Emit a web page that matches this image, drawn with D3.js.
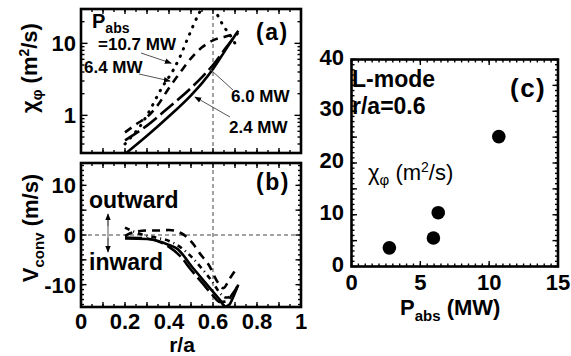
<!DOCTYPE html>
<html>
<head>
<meta charset="utf-8">
<script src="https://cdn.jsdelivr.net/npm/d3@7"></script>
<style>
  body { margin: 0; background: #fff; }
  svg { display: block; font-family: "Liberation Sans", Arial, sans-serif; }
  text { fill: #000; }
</style>
</head>
<body>
<svg id="fig" width="571" height="356"></svg>
<script>
// ---- data -------------------------------------------------------------
const powers = ["2.4 MW", "6.0 MW", "6.4 MW", "10.7 MW"];

// (a) toroidal momentum diffusivity chi_phi (m^2/s) vs r/a
const chi24 = [[0.2,0.29],[0.3,0.52],[0.4,0.97],[0.5,1.9],[0.55,2.8],[0.6,4.4],[0.65,7.5],[0.7,12.9],[0.715,15]];
const chi60 = [[0.2,0.45],[0.3,0.72],[0.4,1.3],[0.5,2.4],[0.55,3.4],[0.6,5.0],[0.65,8.0],[0.7,12.5],[0.715,14]];
const chi64 = [[0.2,0.58],[0.25,0.75],[0.3,0.95],[0.35,1.4],[0.4,2.4],[0.45,3.9],[0.5,6.2],[0.55,8.8],[0.6,11.0],[0.65,12.3],[0.7,13.5]];
const chi107 = [[0.2,0.4],[0.223,0.48],[0.268,0.7],[0.3,1.0],[0.367,2.4],[0.42,4.3],[0.45,6.5],[0.486,11.9],[0.533,24.8],[0.57,38],[0.6,34],[0.62,25],[0.645,18],[0.685,12],[0.7,10]];

// (b) convection velocity V_conv (m/s) vs r/a
const v24 = [[0.2,-0.7],[0.3,-0.8],[0.35,-1.2],[0.4,-2.0],[0.435,-2.7],[0.51,-6.7],[0.586,-10.7],[0.632,-13.1],[0.655,-14.4],[0.675,-14.0],[0.69,-12.7],[0.715,-10.0]];
const v60 = [[0.2,-0.5],[0.3,-0.7],[0.4,-2.4],[0.45,-4.2],[0.5,-7.0],[0.55,-9.6],[0.6,-12.2],[0.63,-13.5],[0.66,-13.4],[0.69,-11.8],[0.71,-10.5]];
const v64 = [[0.2,-0.2],[0.25,0.7],[0.3,0.9],[0.35,0.9],[0.4,1.0],[0.458,0.3],[0.508,-1.7],[0.54,-3.7],[0.586,-6.4],[0.617,-9.2],[0.647,-10.7],[0.677,-8.7],[0.708,-6.7]];
const v107 = [[0.2,1.5],[0.25,0.5],[0.3,-0.2],[0.35,-0.6],[0.4,-1.2],[0.45,-2.4],[0.5,-4.3],[0.55,-6.8],[0.6,-9.6],[0.63,-11.6],[0.66,-12.6],[0.69,-12.0],[0.715,-9.8]];

// (c) chi_phi at r/a = 0.6 vs absorbed power
const pAbs = [2.75, 5.95, 6.3, 10.7];
const chiAt06 = [3.6, 5.5, 10.4, 25.1];

// tick labels
const rTicks = [0, 0.2, 0.4, 0.6, 0.8, 1];
const rTickLabels = ["0", "0.2", "0.4", "0.6", "0.8", "1"];
const chiTicks = [1, 10];
const vTicks = [-10, 0, 10];
const pTicks = [0, 5, 10, 15];
const cTicks = [0, 10, 20, 30, 40];

// ---- scales -----------------------------------------------------------
const x = d3.scaleLinear().domain([0, 1]).range([81, 301]);
const yA = d3.scaleLog().domain([0.3, 30]).range([153, 9]);
const yB = d3.scaleLinear().domain([-14.5, 14.5]).range([307, 163]);
const xC = d3.scaleLinear().domain([0, 15]).range([351.5, 558]);
const yC = d3.scaleLinear().domain([0, 40]).range([266.5, 59.5]);

const svg = d3.select("#fig");
svg.append("rect").attr("width", 571).attr("height", 356).attr("fill", "#fff");

const defs = svg.append("defs");
defs.append("marker").attr("id", "head").attr("viewBox", "0 0 10 10")
  .attr("refX", 9).attr("refY", 5).attr("markerWidth", 7).attr("markerHeight", 7)
  .attr("markerUnits", "userSpaceOnUse").attr("orient", "auto-start-reverse")
  .append("path").attr("d", "M0,1 L10,5 L0,9 Z").attr("fill", "#000");

function clip(id, xs, ys) {
  defs.append("clipPath").attr("id", id).append("rect")
    .attr("x", xs.range()[0]).attr("y", d3.min(ys.range()))
    .attr("width", xs.range()[1] - xs.range()[0])
    .attr("height", Math.abs(ys.range()[0] - ys.range()[1]));
}
clip("clipA", x, yA);
clip("clipB", x, yB);

// inward ticks on all four sides
function ticksX(g, xs, ys, vals, len) {
  const [y0, y1] = ys.range();
  vals.forEach(v => {
    const px = xs(v);
    g.append("line").attr("x1", px).attr("x2", px).attr("y1", y0).attr("y2", y0 - len);
    g.append("line").attr("x1", px).attr("x2", px).attr("y1", y1).attr("y2", y1 + len);
  });
}
function ticksY(g, xs, ys, vals, len) {
  const [x0, x1] = xs.range();
  vals.forEach(v => {
    const py = ys(v);
    g.append("line").attr("x1", x0).attr("x2", x0 + len).attr("y1", py).attr("y2", py);
    g.append("line").attr("x1", x1).attr("x2", x1 - len).attr("y1", py).attr("y2", py);
  });
}
function frame(xs, ys) {
  const [x0, x1] = xs.range();
  const ya = d3.min(ys.range()), yb = d3.max(ys.range());
  svg.append("rect").attr("x", x0).attr("y", ya).attr("width", x1 - x0).attr("height", yb - ya)
    .attr("fill", "none").attr("stroke", "#000").attr("stroke-width", 2.6);
}
function tickGroup() {
  return svg.append("g").attr("stroke", "#000").attr("stroke-width", 1.4);
}

const rMinor = d3.range(0, 1.0001, 0.05).map(v => +v.toFixed(2));
const rMajor = d3.range(0, 1.0001, 0.1).map(v => +v.toFixed(2));

// ---- panel (a) --------------------------------------------------------
{
  const g = tickGroup();
  ticksX(g, x, yA, rMinor, 3);
  ticksX(g, x, yA, rMajor, 5);
  const logMinor = [0.3,0.4,0.5,0.6,0.7,0.8,0.9,2,3,4,5,6,7,8,9,20,30];
  ticksY(g, x, yA, logMinor, 3.5);
  ticksY(g, x, yA, chiTicks, 6.5);

  svg.append("line").attr("x1", x(0.6)).attr("x2", x(0.6))
    .attr("y1", yA.range()[0]).attr("y2", yA.range()[1])
    .attr("stroke", "#444").attr("stroke-width", 1).attr("stroke-dasharray", "4,3");

  const line = d3.line().x(d => x(d[0])).y(d => yA(d[1])).curve(d3.curveMonotoneX);
  const gl = svg.append("g").attr("clip-path", "url(#clipA)").attr("fill", "none").attr("stroke", "#000");
  gl.append("path").datum(chi24).attr("d", line).attr("stroke-width", 2.6);
  gl.append("path").datum(chi60).attr("d", line).attr("stroke-width", 2.6).attr("stroke-dasharray", "17,5");
  gl.append("path").datum(chi64).attr("d", line).attr("stroke-width", 2.6).attr("stroke-dasharray", "8,6");
  gl.append("path").datum(chi107).attr("d", line).attr("stroke-width", 3)
    .attr("stroke-linecap", "round").attr("stroke-dasharray", "0.5,7.5");

  frame(x, yA);

  chiTicks.forEach(v => {
    svg.append("text").attr("x", 76).attr("y", yA(v) + 8).attr("text-anchor", "end")
      .attr("font-size", 22).attr("font-weight", "bold").text(v);
  });

  // annotations
  const ann = svg.append("g").attr("font-weight", "bold");
  const p = ann.append("text").attr("x", 92).attr("y", 28);
  p.append("tspan").attr("font-size", 20).text("P");
  p.append("tspan").attr("font-size", 14).attr("dy", 5).text("abs");
  ann.append("text").attr("x", 98).attr("y", 50).attr("font-size", 17).text("=10.7 MW");
  ann.append("text").attr("x", 84).attr("y", 73).attr("font-size", 17).text("6.4 MW");
  ann.append("text").attr("x", 231).attr("y", 102).attr("font-size", 17).text("6.0 MW");
  ann.append("text").attr("x", 229).attr("y", 133).attr("font-size", 17).text("2.4 MW");
  ann.append("text").attr("x", 256).attr("y", 40).attr("font-size", 23)
    .attr("letter-spacing", 1.5).text("(a)");

  const arr = svg.append("g").attr("stroke", "#555").attr("stroke-width", 1);
  arr.append("line").attr("x1", 141).attr("y1", 53).attr("x2", x(0.41)).attr("y2", yA(5.3)).attr("marker-end", "url(#head)");
  arr.append("line").attr("x1", 139).attr("y1", 74).attr("x2", x(0.405)).attr("y2", yA(3.0)).attr("marker-end", "url(#head)");
  arr.append("line").attr("x1", 233).attr("y1", 90).attr("x2", x(0.586)).attr("y2", yA(4.4));
  arr.append("line").attr("x1", 230).attr("y1", 117).attr("x2", x(0.518)).attr("y2", yA(1.8)).attr("marker-end", "url(#head)");

  const yl = svg.append("text").attr("transform", "translate(37,68) rotate(-90)")
    .attr("text-anchor", "middle").attr("font-weight", "bold").attr("font-size", 22);
  yl.append("tspan").text("χ");
  yl.append("tspan").attr("font-size", 15).attr("dy", 5).text("φ");
  yl.append("tspan").attr("dy", -5).text(" (m");
  yl.append("tspan").attr("font-size", 14).attr("dy", -8).text("2");
  yl.append("tspan").attr("dy", 8).text("/s)");
}

// ---- panel (b) --------------------------------------------------------
{
  const g = tickGroup();
  ticksX(g, x, yB, rMinor, 3);
  ticksX(g, x, yB, rMajor, 5);
  ticksY(g, x, yB, d3.range(-14, 15, 1), 3);
  ticksY(g, x, yB, [-10, -5, 0, 5, 10], 5.5);

  const ref = svg.append("g").attr("stroke", "#444").attr("stroke-width", 1).attr("stroke-dasharray", "4,3");
  ref.append("line").attr("x1", x(0.6)).attr("x2", x(0.6)).attr("y1", yB.range()[0]).attr("y2", yB.range()[1]);
  ref.append("line").attr("x1", x(0)).attr("x2", x(1)).attr("y1", yB(0)).attr("y2", yB(0));

  const line = d3.line().x(d => x(d[0])).y(d => yB(d[1])).curve(d3.curveMonotoneX);
  const gl = svg.append("g").attr("clip-path", "url(#clipB)").attr("fill", "none").attr("stroke", "#000");
  gl.append("path").datum(v24).attr("d", line).attr("stroke-width", 2.6);
  gl.append("path").datum(v60).attr("d", line).attr("stroke-width", 2.6).attr("stroke-dasharray", "17,5");
  gl.append("path").datum(v64).attr("d", line).attr("stroke-width", 2.6).attr("stroke-dasharray", "8,6");
  gl.append("path").datum(v107).attr("d", line).attr("stroke-width", 2.6)
    .attr("stroke-dasharray", "5,4,1,4");

  frame(x, yB);

  vTicks.forEach(v => {
    svg.append("text").attr("x", 76).attr("y", yB(v) + 8).attr("text-anchor", "end")
      .attr("font-size", 22).attr("font-weight", "bold").text(v);
  });
  rTicks.forEach((v, i) => {
    svg.append("text").attr("x", x(v)).attr("y", 329).attr("text-anchor", "middle")
      .attr("font-size", 22).attr("font-weight", "bold").text(rTickLabels[i]);
  });
  svg.append("text").attr("x", 182).attr("y", 352).attr("text-anchor", "middle")
    .attr("font-size", 21).attr("font-weight", "bold").text("r/a");

  svg.append("text").attr("x", 89).attr("y", 208).attr("font-size", 23).attr("font-weight", "bold").text("outward");
  svg.append("text").attr("x", 89).attr("y", 270).attr("font-size", 23).attr("font-weight", "bold").text("inward");
  svg.append("text").attr("x", 256).attr("y", 190).attr("font-size", 23).attr("font-weight", "bold")
    .attr("letter-spacing", 1.5).text("(b)");
  svg.append("line").attr("x1", 108).attr("x2", 108).attr("y1", 226).attr("y2", 214)
    .attr("stroke", "#555").attr("stroke-width", 1).attr("marker-end", "url(#head)");
  svg.append("line").attr("x1", 108).attr("x2", 108).attr("y1", 238).attr("y2", 252)
    .attr("stroke", "#555").attr("stroke-width", 1).attr("marker-end", "url(#head)");
  svg.append("line").attr("x1", 108).attr("x2", 108).attr("y1", 220).attr("y2", 246)
    .attr("stroke", "#555").attr("stroke-width", 1);

  const yl = svg.append("text").attr("transform", "translate(38,228) rotate(-90)")
    .attr("text-anchor", "middle").attr("font-weight", "bold").attr("font-size", 22);
  yl.append("tspan").text("V");
  yl.append("tspan").attr("font-size", 15).attr("dy", 6).text("conv");
  yl.append("tspan").attr("dy", -6).text(" (m/s)");
}

// ---- panel (c) --------------------------------------------------------
{
  const g = tickGroup();
  ticksX(g, xC, yC, d3.range(0, 15.001, 0.5), 3);
  ticksX(g, xC, yC, [0, 5, 10, 15], 5.5);
  ticksY(g, xC, yC, d3.range(0, 41, 1), 3);
  ticksY(g, xC, yC, d3.range(0, 41, 5), 5.5);

  frame(xC, yC);

  svg.append("g").selectAll("circle").data(pAbs).join("circle")
    .attr("cx", d => xC(d)).attr("cy", (d, i) => yC(chiAt06[i])).attr("r", 6.8).attr("fill", "#000");

  cTicks.forEach(v => {
    svg.append("text").attr("x", 344).attr("y", yC(v) + 5).attr("text-anchor", "end")
      .attr("font-size", 22).attr("font-weight", "bold").text(v);
  });
  pTicks.forEach(v => {
    svg.append("text").attr("x", xC(v)).attr("y", 290).attr("text-anchor", "middle")
      .attr("font-size", 22).attr("font-weight", "bold").text(v);
  });

  const xl = svg.append("text").attr("x", 400).attr("y", 315).attr("font-weight", "bold").attr("font-size", 22);
  xl.append("tspan").text("P");
  xl.append("tspan").attr("font-size", 15).attr("dy", 6).text("abs");
  xl.append("tspan").attr("dy", -6).text(" (MW)");

  svg.append("text").attr("x", 352).attr("y", 87).attr("font-size", 23).attr("font-weight", "bold").text("L-mode");
  svg.append("text").attr("x", 352).attr("y", 114).attr("font-size", 23).attr("font-weight", "bold").text("r/a=0.6");
  svg.append("text").attr("x", 510).attr("y", 97).attr("font-size", 26).attr("font-weight", "bold")
    .attr("letter-spacing", 1.5).text("(c)");

  const lab = svg.append("text").attr("x", 368).attr("y", 180).attr("font-size", 22);
  lab.append("tspan").text("χ");
  lab.append("tspan").attr("font-size", 15).attr("dy", 5).text("φ");
  lab.append("tspan").attr("dy", -5).text(" (m");
  lab.append("tspan").attr("font-size", 14).attr("dy", -8).text("2");
  lab.append("tspan").attr("dy", 8).text("/s)");
}
</script>
</body>
</html>
